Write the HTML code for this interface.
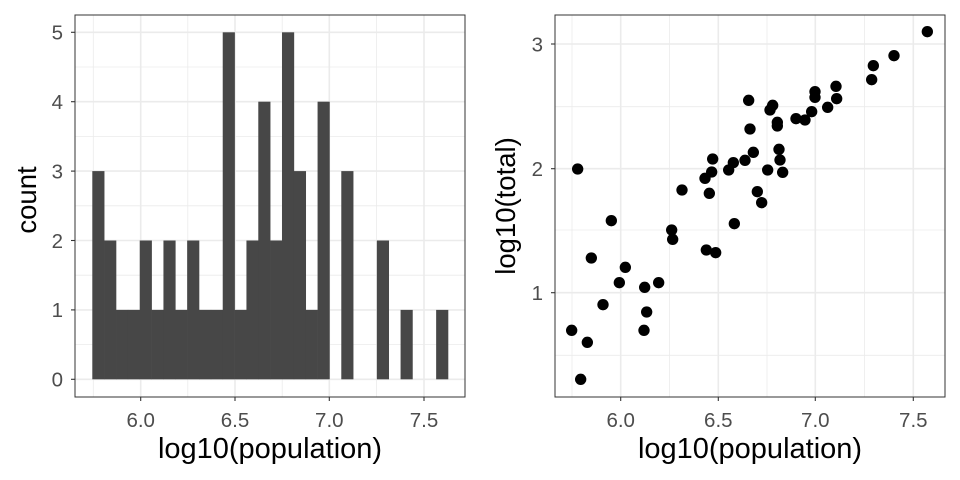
<!DOCTYPE html>
<html><head><style>
body{margin:0;background:#fff;}
svg{display:block;font-family:"Liberation Sans",sans-serif;}
</style></head><body>
<svg width="960" height="480" viewBox="0 0 960 480">
<rect width="960" height="480" fill="#fff"/>
<!-- LEFT PANEL -->
<g stroke="#ebebeb" stroke-width="0.8">
<line x1="93.3" y1="15" x2="93.3" y2="397"/><line x1="187.8" y1="15" x2="187.8" y2="397"/><line x1="282.2" y1="15" x2="282.2" y2="397"/><line x1="376.6" y1="15" x2="376.6" y2="397"/>
<line x1="75" y1="344.6" x2="465" y2="344.6"/><line x1="75" y1="275.2" x2="465" y2="275.2"/><line x1="75" y1="205.8" x2="465" y2="205.8"/><line x1="75" y1="136.4" x2="465" y2="136.4"/><line x1="75" y1="67" x2="465" y2="67"/>
</g>
<g stroke="#ebebeb" stroke-width="1.6">
<line x1="140.7" y1="15" x2="140.7" y2="397"/><line x1="235" y1="15" x2="235" y2="397"/><line x1="329.3" y1="15" x2="329.3" y2="397"/><line x1="424" y1="15" x2="424" y2="397"/>
<line x1="75" y1="379.3" x2="465" y2="379.3"/><line x1="75" y1="309.9" x2="465" y2="309.9"/><line x1="75" y1="240.5" x2="465" y2="240.5"/><line x1="75" y1="171.1" x2="465" y2="171.1"/><line x1="75" y1="101.7" x2="465" y2="101.7"/><line x1="75" y1="32.3" x2="465" y2="32.3"/>
</g>
<g fill="#474747" id="bars"></g>
<rect x="75" y="15" width="390" height="382" fill="none" stroke="#333" stroke-width="1"/>
<g stroke="#333" stroke-width="1.1">
<line x1="71" y1="379.3" x2="75" y2="379.3"/><line x1="71" y1="309.9" x2="75" y2="309.9"/><line x1="71" y1="240.5" x2="75" y2="240.5"/><line x1="71" y1="171.1" x2="75" y2="171.1"/><line x1="71" y1="101.7" x2="75" y2="101.7"/><line x1="71" y1="32.3" x2="75" y2="32.3"/>
<line x1="140.7" y1="397" x2="140.7" y2="401"/><line x1="235" y1="397" x2="235" y2="401"/><line x1="329.3" y1="397" x2="329.3" y2="401"/><line x1="424" y1="397" x2="424" y2="401"/>
</g>
<g fill="#4d4d4d" font-size="20.5" text-anchor="end">
<text x="63" y="386.6">0</text><text x="63" y="317.2">1</text><text x="63" y="247.8">2</text><text x="63" y="178.4">3</text><text x="63" y="109">4</text><text x="63" y="39.6">5</text>
</g>
<g fill="#4d4d4d" font-size="20.5" text-anchor="middle">
<text x="140.7" y="427">6.0</text><text x="235" y="427">6.5</text><text x="329.3" y="427">7.0</text><text x="424" y="427">7.5</text>
</g>
<text x="270" y="458" font-size="29" text-anchor="middle">log10(population)</text>
<text transform="translate(36,200) rotate(-90)" font-size="27.5" text-anchor="middle">count</text>

<!-- RIGHT PANEL -->
<g stroke="#ebebeb" stroke-width="0.8">
<line x1="572" y1="15" x2="572" y2="397"/><line x1="669.5" y1="15" x2="669.5" y2="397"/><line x1="767" y1="15" x2="767" y2="397"/><line x1="864.5" y1="15" x2="864.5" y2="397"/>
<line x1="555" y1="106.7" x2="945" y2="106.7"/><line x1="555" y1="230" x2="945" y2="230"/><line x1="555" y1="355.3" x2="945" y2="355.3"/>
</g>
<g stroke="#ebebeb" stroke-width="1.6">
<line x1="620.7" y1="15" x2="620.7" y2="397"/><line x1="718.3" y1="15" x2="718.3" y2="397"/><line x1="815.3" y1="15" x2="815.3" y2="397"/><line x1="913.3" y1="15" x2="913.3" y2="397"/>
<line x1="555" y1="44" x2="945" y2="44"/><line x1="555" y1="168.7" x2="945" y2="168.7"/><line x1="555" y1="292.7" x2="945" y2="292.7"/>
</g>
<g transform="translate(540,0) scale(0.3333333)" fill="#000">
<circle cx="1162" cy="95" r="17"/><circle cx="1062" cy="167" r="17"/><circle cx="1000" cy="197" r="17"/><circle cx="995" cy="239" r="17"/><circle cx="888" cy="259" r="17"/><circle cx="890" cy="296" r="17"/><circle cx="825" cy="275" r="17"/><circle cx="825" cy="292" r="17"/><circle cx="863" cy="322" r="17"/><circle cx="815" cy="335" r="17"/><circle cx="768" cy="356" r="17"/><circle cx="795" cy="360" r="17"/><circle cx="626" cy="301" r="17"/><circle cx="698" cy="316" r="17"/><circle cx="690" cy="330" r="17"/><circle cx="712" cy="367" r="17"/><circle cx="712" cy="378" r="17"/><circle cx="630" cy="387" r="17"/><circle cx="717" cy="448" r="17"/><circle cx="720" cy="480" r="17"/><circle cx="728" cy="517" r="17"/><circle cx="683" cy="510" r="17"/><circle cx="640" cy="457" r="17"/><circle cx="615" cy="481" r="17"/><circle cx="580" cy="488" r="17"/><circle cx="566" cy="510" r="17"/><circle cx="518" cy="477" r="17"/><circle cx="515" cy="516" r="17"/><circle cx="495" cy="535" r="17"/><circle cx="508" cy="580" r="17"/><circle cx="113" cy="507" r="17"/><circle cx="426" cy="570" r="17"/><circle cx="652" cy="575" r="17"/><circle cx="665" cy="608" r="17"/><circle cx="583" cy="671" r="17"/><circle cx="214" cy="662" r="17"/><circle cx="395" cy="690" r="17"/><circle cx="398" cy="718" r="17"/><circle cx="499" cy="750" r="17"/><circle cx="527" cy="758" r="17"/><circle cx="154" cy="774" r="17"/><circle cx="256" cy="802" r="17"/><circle cx="238" cy="848" r="17"/><circle cx="314" cy="862" r="17"/><circle cx="356" cy="848" r="17"/><circle cx="189" cy="914" r="17"/><circle cx="320" cy="936" r="17"/><circle cx="95" cy="991" r="17"/><circle cx="312" cy="991" r="17"/><circle cx="142" cy="1027" r="17"/><circle cx="122" cy="1138" r="17"/>
</g>
<rect x="555" y="15" width="390" height="382" fill="none" stroke="#333" stroke-width="1"/>
<g stroke="#333" stroke-width="1.1">
<line x1="551" y1="44" x2="555" y2="44"/><line x1="551" y1="168.7" x2="555" y2="168.7"/><line x1="551" y1="292.7" x2="555" y2="292.7"/>
<line x1="620.7" y1="397" x2="620.7" y2="401"/><line x1="718.3" y1="397" x2="718.3" y2="401"/><line x1="815.3" y1="397" x2="815.3" y2="401"/><line x1="913.3" y1="397" x2="913.3" y2="401"/>
</g>
<g fill="#4d4d4d" font-size="20.5" text-anchor="end">
<text x="543" y="51.3">3</text><text x="543" y="176">2</text><text x="543" y="300">1</text>
</g>
<g fill="#4d4d4d" font-size="20.5" text-anchor="middle">
<text x="620.7" y="427">6.0</text><text x="718.3" y="427">6.5</text><text x="815.3" y="427">7.0</text><text x="913.3" y="427">7.5</text>
</g>
<text x="750" y="458" font-size="29" text-anchor="middle">log10(population)</text>
<text transform="translate(515,206) rotate(-90)" font-size="27.5" text-anchor="middle">log10(total)</text>
</svg>
<script>
var c=[3,2,1,1,2,1,2,1,2,1,1,5,1,2,4,2,5,3,1,4,0,3,0,0,2,0,1,0,0,1];
var g=document.getElementById('bars'),s='';
var x0=92.3,w=(448-92.3)/30,y0=379.3,u=69.4;
for(var i=0;i<30;i++){if(c[i])s+='<rect x="'+(x0+i*w)+'" y="'+(y0-c[i]*u)+'" width="'+(w+0.3)+'" height="'+(c[i]*u)+'"/>';}
g.innerHTML=s;
</script>
</body></html>
